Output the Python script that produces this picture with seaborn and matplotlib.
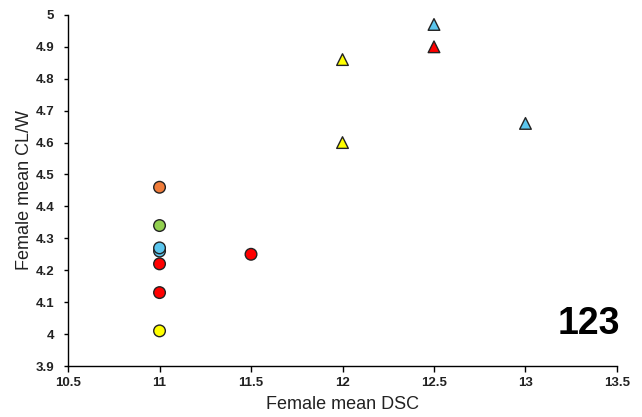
import matplotlib
matplotlib.use("Agg")
import matplotlib.pyplot as plt
import seaborn as sns
import pandas as pd

# Female mean DSC vs female mean CL/W
dsc = [11, 11, 11, 11, 11, 11, 11, 11.5, 12, 12, 12.5, 12.5, 13]
clw = [4.46, 4.34, 4.26, 4.27, 4.22, 4.13, 4.01, 4.25, 4.86, 4.60, 4.97, 4.90, 4.66]
group = ["orange", "green", "blue", "blue", "red", "red", "yellow", "red",
         "yellow", "yellow", "blue", "red", "blue"]
shape = ["circle"] * 8 + ["triangle"] * 5

palette = {"orange": "#F07C3A", "green": "#92D050", "blue": "#5BC6EE",
           "red": "#FF0000", "yellow": "#FFFF00"}
markers = {"circle": "o", "triangle": "^"}

df = pd.DataFrame({"dsc": dsc, "clw": clw, "group": group, "shape": shape})

sns.set_style("white")
plt.rcParams["font.family"] = ["Liberation Sans", "DejaVu Sans"]

fig = plt.figure(figsize=(6.42, 4.17), dpi=100)
ax = fig.add_axes([0.106, 0.1223, 0.855, 0.842])

sns.scatterplot(data=df, x="dsc", y="clw", hue="group", style="shape",
                palette=palette, markers=markers, s=70, edgecolor="#222222",
                linewidth=1.0, legend=False, ax=ax, zorder=3)

ax.set_xlim(10.5, 13.5)
ax.set_ylim(3.9, 5.0)
ax.set_xticks([10.5, 11, 11.5, 12, 12.5, 13, 13.5])
ax.set_xticklabels(["10.5", "11", "11.5", "12", "12.5", "13", "13.5"])
ax.set_yticks([3.9, 4.0, 4.1, 4.2, 4.3, 4.4, 4.5, 4.6, 4.7, 4.8, 4.9, 5.0])
ax.set_yticklabels(["3.9", "4", "4.1", "4.2", "4.3", "4.4", "4.5", "4.6",
                    "4.7", "4.8", "4.9", "5"])

for side in ["top", "right"]:
    ax.spines[side].set_visible(False)
for side in ["left", "bottom"]:
    ax.spines[side].set_color("black")
    ax.spines[side].set_linewidth(1.0)

ax.tick_params(axis="x", direction="out", length=4, width=1, color="black",
               labelsize=9.5, pad=4, bottom=True)
ax.tick_params(axis="y", direction="out", length=3, width=1, color="black",
               labelsize=9.5, pad=7, left=True)
for lab in ax.get_xticklabels() + ax.get_yticklabels():
    lab.set_fontweight("bold")
    lab.set_color("#222222")

ax.set_xlabel("Female mean DSC", fontsize=13, color="#222222", labelpad=5)
ax.set_ylabel("Female mean CL/W", fontsize=13, color="#222222", labelpad=2)

ax.text(1.005, 0.12, "123", transform=ax.transAxes, ha="right", va="center",
        fontsize=27, fontweight="bold", color="black")

fig.savefig("out.png", dpi=100)
